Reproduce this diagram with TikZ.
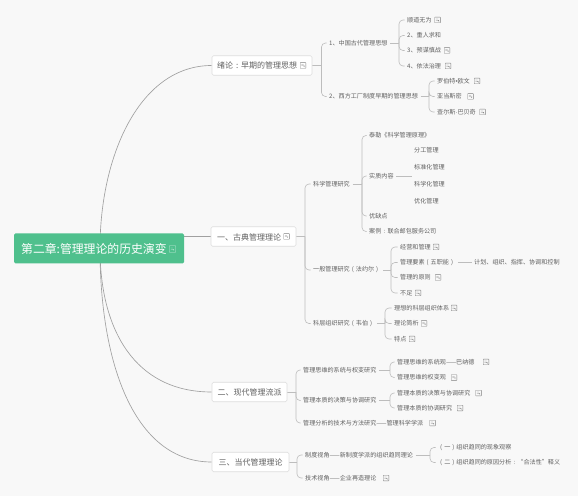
\documentclass[tikz,border=0pt]{standalone}
\usepackage{fontspec}
\setmainfont{Noto Sans CJK SC}
\newfontfamily\narrowf{Liberation Sans}
\pgfdeclarelayer{sheet}
\pgfdeclarelayer{wires}
\pgfsetlayers{sheet,wires,main}
\definecolor{sheetc}{HTML}{F8F8F8}
\definecolor{wirec}{HTML}{A0A0A0}
\definecolor{rootc}{HTML}{4FC08D}
\definecolor{textc}{HTML}{606060}
\definecolor{topicline}{HTML}{DDDDDD}
\tikzset{
  x=1pt,y=-1pt,
  lab/.style={anchor=west,inner xsep=2.5pt,xshift=-2.5pt,inner ysep=1pt,text=textc,font=\fontsize{6.1}{7}\selectfont},
  topic/.style={draw=topicline,fill=white,rounded corners=1.5pt,line width=.6pt,inner sep=0pt,text=textc,font=\fontsize{8}{9}\selectfont,align=center},
  topict/.style={text=textc,inner sep=0pt,anchor=west,font=\fontsize{8}{9}\selectfont},
  rootbox/.style={fill=rootc,rounded corners=1.5pt,inner sep=0pt},
  wire/.style={draw=wirec,line width=.65pt},
  branch/.style={draw=wirec!70,line width=.6pt,rounded corners=4pt},
  noteic/.style={draw=#1,line width=.4pt,inner sep=0pt,minimum size=5.6pt,rounded corners=.3pt,
    path picture={\draw[#1,line width=.35pt]
      ([xshift=-1.6pt,yshift=1pt]path picture bounding box.center)--++(2.2,0)
      ([xshift=-1.6pt,yshift=-.2pt]path picture bounding box.center)--++(3.2,0)
      ([xshift=1.6pt,yshift=-1.6pt]path picture bounding box.center)--++(-1.2,-1.2);}},
  noteic/.default=textc!80
}
\newcommand{\lab}[4]{\node[lab] (#1) at (#2,#3) {#4};}
\newcommand{\ic}[3]{\node[noteic] (#1) at (#2,#3) {};}
\newcommand{\cw}[1]{\makebox[1em]{#1}}
\newcommand{\fork}[4]{% parent, bracket x, bracket y, children
  \coordinate (#1-b) at (#2,#3);
  \draw[branch] (#1.east) -- (#1-b);
  \foreach \c in {#4} \draw[branch] (#1-b) |- (\c.west);}
\begin{document}
\begin{tikzpicture}
\useasboundingbox (0,0) rectangle (582,500);
\begin{pgfonlayer}{sheet}
\fill[white] (0,0) rectangle (582,500);
\fill[sheetc] (0,0) rectangle (578,496);
\end{pgfonlayer}
% root
\node[rootbox,minimum width=170pt,minimum height=30pt] (root) at (99,248.5) {};
\node[text=white,inner sep=0pt,anchor=west,font=\fontsize{11.85}{13}\selectfont] (roott) at (21,248.5) {第二章:管理理论的历史演变};
\node[noteic=white!70!rootc,minimum size=6.5pt] (rooti) at (172.5,249) {};
% topics
\node[topic,minimum width=100pt,minimum height=19.5pt] (t0) at (262,65.5) {};
\node[topict] (t0t) at (217,65.5) {绪论\cw{:}早期的管理思想};
\ic{t0i}{303}{65.5}
\node[topic,minimum width=85pt,minimum height=19.5pt] (t1) at (253.5,236.5) {};
\node[topict] (t1t) at (217,237) {一、古典管理理论};
\ic{t1i}{286.5}{236.5}
\node[topic,minimum width=75pt,minimum height=19.5pt] (t2) at (249.5,392) {二、现代管理流派};
\node[topic,minimum width=77pt,minimum height=19.5pt] (t3) at (250.5,462) {三、当代管理理论};
% level 2 : intro
\lab{a1}{329}{43}{1、中国古代管理思想}
\lab{a2}{329}{96.5}{2、西方工厂制度早期的管理思想}
\lab{a11}{407}{20}{顺道无为} \ic{a11i}{437.5}{20}
\lab{a12}{407}{35.5}{2、重人求和}
\lab{a13}{407}{50.5}{3、预谋慎战} \ic{a13i}{447}{50.5}
\lab{a14}{407}{66}{4、依法治理} \ic{a14i}{448}{66}
\lab{a21}{437}{81}{罗伯特{\narrowf •}欧文} \ic{a21i}{477}{81}
\lab{a22}{437}{96.5}{亚当斯密} \ic{a22i}{470.5}{96.5}
\lab{a23}{437}{112}{查尔斯{\narrowf ·}巴贝奇} \ic{a23i}{482.5}{112}
% classical
\lab{b1}{313}{184}{科学管理研究}
\lab{b2}{313}{270}{一般管理研究\cw{(}法约尔\cw{)}}
\lab{b3}{313}{323.5}{科层组织研究\cw{(}韦伯\cw{)}}
\lab{b11}{369}{135.5}{泰勒《科学管理原理》}
\lab{b12}{369}{176}{实质内容}
\coordinate (b12e) at (412,176);
\lab{b13}{369}{216}{优缺点}
\lab{b14}{369}{231.5}{案例\cw{:}联合邮包服务公司}
\lab{b121}{414}{150}{分工管理}
\lab{b122}{414}{167}{标准化管理}
\lab{b123}{414}{184}{科学化管理}
\lab{b124}{414}{201}{优化管理}
\lab{b21}{400}{247}{经营和管理} \ic{b21i}{436}{247}
\lab{b22}{400}{262.5}{管理要素\cw{(}五职能\cw{)}}
\lab{b23}{400}{277.5}{管理的原则} \ic{b23i}{438}{277.5}
\lab{b24}{400}{293}{不足} \ic{b24i}{418}{293}
\lab{b221}{474}{262.5}{计划、组织、指挥、协调和控制}
\lab{b31}{394}{308}{理想的科层组织体系} \ic{b31i}{454}{308}
\lab{b32}{394}{323.5}{理论简析} \ic{b32i}{424}{323.5}
\lab{b33}{394}{339}{特点} \ic{b33i}{412}{339}
% modern
\lab{c1}{303}{370}{管理思维的系统与权变研究}
\lab{c2}{303}{400.5}{管理本质的决策与协调研究}
\lab{c3}{303}{423}{管理分析的技术与方法研究——管理科学学派} \ic{c3i}{432.5}{423}
\lab{c11}{397}{362}{管理思维的系统观——巴纳德} \ic{c11i}{486}{362}
\lab{c12}{397}{377.5}{管理思维的权变观} \ic{c12i}{454}{377.5}
\lab{c21}{397}{393}{管理本质的决策与协调研究} \ic{c21i}{478.5}{393}
\lab{c22}{397}{408}{管理本质的协调研究} \ic{c22i}{460}{408}
% contemporary
\lab{d1}{305}{455}{制度视角——新制度学派的组织趋同理论}
\lab{d2}{305}{478}{技术视角——企业再造理论} \ic{d2i}{386}{478}
\lab{d11}{438}{447.5}{\cw{(}一\cw{)}组织趋同的现象观察}
\lab{d12}{438}{462.5}{\cw{(}二\cw{)}组织趋同的原因分析\cw{:}“合法性”释义}
% connectors
\begin{pgfonlayer}{wires}
\coordinate (hub) at (100,248.5);
\draw[wire] (hub) .. controls (100,155) and (140,65.5) .. (t0.west);
\draw[wire] (root.east|-t1) -- (t1.west);
\draw[wire] (hub) .. controls (100,330) and (135,392) .. (t2.west);
\draw[wire] (hub) .. controls (100,365) and (135,462) .. (t3.west);
\fork{t0}{321.5}{65.5}{a1,a2}
\fork{t1}{305}{236.5}{b1,b2,b3}
\fork{t2}{296}{392}{c1,c2,c3}
\fork{t3}{297}{462}{d1,d2}
\fork{a1}{399}{43}{a11,a12,a13,a14}
\fork{a2}{429}{96.5}{a21,a22,a23}
\fork{b1}{362}{184}{b11,b12,b13,b14}
\fork{b2}{391}{270}{b21,b22,b23,b24}
\fork{b3}{385}{323.5}{b31,b32,b33}
\fork{c1}{390}{370}{c11,c12}
\fork{c2}{390}{400.5}{c21,c22}
\fork{d1}{430}{455}{d11,d12}
\draw[branch] (b12.east) -- (b12e);
\draw[branch] (b22.east) -- (b221.west);
\end{pgfonlayer}
\end{tikzpicture}
\end{document}
